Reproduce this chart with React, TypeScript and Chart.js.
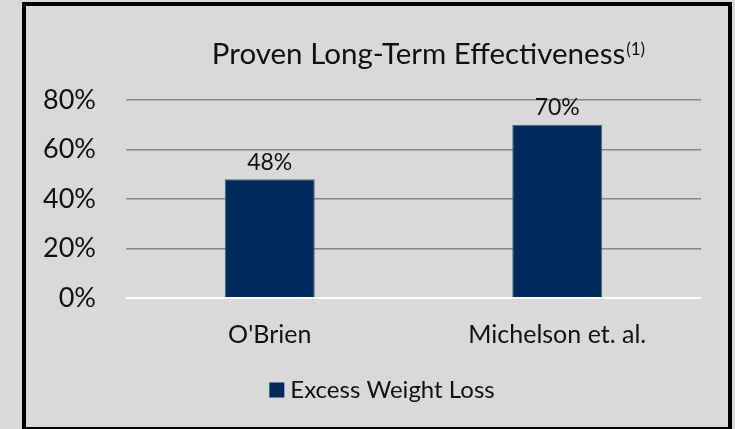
import React, { useEffect, useRef } from "react";
import { Chart, registerables } from "chart.js";

Chart.register(...registerables);

// ---- data ----
const categories = ["O'Brien", "Michelson et. al."];
const excessWeightLoss = [0.48, 0.7];
const yTickValues = [0, 0.2, 0.4, 0.6, 0.8];
const seriesLabel = "Excess Weight Loss";
const titleText = "Proven Long-Term Effectiveness";
const titleSup = "(1)";

// ---- style ----
const NAVY = "#002b5c";
const BG = "#d9d9d9";
const TEXT = "#111111";
const FONT = "Lato, 'Open Sans', sans-serif";

const pct = (v: number) => `${Math.round(v * 100)}%`;

export default function App() {
  const ref = useRef<HTMLCanvasElement>(null);

  useEffect(() => {
    if (!ref.current) return;

    const titlePlugin = {
      id: "supTitle",
      afterDraw(chart: any) {
        const ctx = chart.ctx;
        ctx.save();
        ctx.fillStyle = TEXT;
        ctx.textBaseline = "alphabetic";
        ctx.textAlign = "left";
        ctx.font = `29.5px ${FONT}`;
        const w1 = ctx.measureText(titleText).width;
        ctx.font = `17px ${FONT}`;
        const w2 = ctx.measureText(titleSup).width;
        const total = w1 + 1 + w2;
        const cx = (chart.chartArea.left + chart.chartArea.right) / 2 + 15;
        const x0 = cx - total / 2;
        const baseline = chart.chartArea.top - 36;
        ctx.font = `29.5px ${FONT}`;
        ctx.fillText(titleText, x0, baseline);
        ctx.font = `17px ${FONT}`;
        ctx.fillText(titleSup, x0 + w1 + 1, baseline - 9);
        ctx.restore();
      },
    };

    const legendPlugin = {
      id: "bottomLegend",
      afterDraw(chart: any) {
        const ctx = chart.ctx;
        const ds = chart.data.datasets[0];
        ctx.save();
        ctx.font = `24px ${FONT}`;
        const tw = ctx.measureText(ds.label).width;
        const box = 15;
        const gap = 6;
        const total = box + gap + tw;
        const cx = (chart.chartArea.left + chart.chartArea.right) / 2 - 31.5;
        const x0 = cx - total / 2;
        const cy = chart.chartArea.bottom + 92;
        ctx.fillStyle = ds.backgroundColor;
        ctx.fillRect(x0, cy - box / 2, box, box);
        ctx.fillStyle = TEXT;
        ctx.textAlign = "left";
        ctx.textBaseline = "middle";
        ctx.fillText(ds.label, x0 + box + gap, cy);
        ctx.restore();
      },
    };

    const labelPlugin = {
      id: "barLabels",
      afterDatasetsDraw(chart: any) {
        const ctx = chart.ctx;
        const meta = chart.getDatasetMeta(0);
        ctx.save();
        ctx.fillStyle = TEXT;
        ctx.font = `23px ${FONT}`;
        ctx.textAlign = "center";
        ctx.textBaseline = "alphabetic";
        meta.data.forEach((bar: any, i: number) => {
          ctx.fillText(pct(excessWeightLoss[i]), bar.x, bar.y - 9.5);
        });
        ctx.restore();
      },
    };

    const chart = new Chart(ref.current, {
      type: "bar",
      data: {
        labels: categories,
        datasets: [
          {
            label: seriesLabel,
            data: excessWeightLoss,
            backgroundColor: NAVY,
            borderColor: "#4d6485",
            borderWidth: 1,
            categoryPercentage: 1,
            barPercentage: 0.313,
          },
        ],
      },
      options: {
        responsive: false,
        maintainAspectRatio: false,
        animation: false,
        layout: { padding: { top: 100, right: 34, left: 0, bottom: 60.5 } },
        plugins: {
          title: { display: false },
          tooltip: { enabled: false },
          legend: { display: false },
        },
        scales: {
          x: {
            grid: { display: false },
            border: { display: false },
            ticks: {
              color: TEXT,
              padding: 14,
              font: { family: FONT, size: 25 },
              maxRotation: 0,
            },
            afterFit(scale: any) {
              scale.height = 70.5;
            },
          },
          y: {
            min: 0,
            max: 0.8,
            border: { display: false },
            grid: {
              drawTicks: false,
              color: (c: any) => (c.tick && c.tick.value === 0 ? "#ffffff" : "#878787"),
              lineWidth: (c: any) => (c.tick && c.tick.value === 0 ? 2 : 1.5),
            },
            ticks: {
              color: TEXT,
              padding: 30,
              font: { family: FONT, size: 27 },
              callback: (v: any) => pct(Number(v)),
            },
            afterBuildTicks(scale: any) {
              scale.ticks = yTickValues.map((v) => ({ value: v }));
            },
            afterFit(scale: any) {
              scale.width = 126;
            },
          },
        },
      },
      plugins: [titlePlugin, labelPlugin, legendPlugin],
    });

    return () => chart.destroy();
  }, []);

  return (
    <div
      style={{
        position: "fixed",
        left: 0,
        top: 0,
        width: 735,
        height: 429,
        overflow: "hidden",
        background: BG,
      }}
    >
      <canvas ref={ref} width={735} height={429} style={{ position: "absolute", left: 0, top: 0 }} />
      <div
        style={{
          position: "absolute",
          left: 22,
          top: 2,
          width: 710,
          height: 429,
          boxSizing: "border-box",
          border: "4px solid #000",
          pointerEvents: "none",
        }}
      />
    </div>
  );
}
